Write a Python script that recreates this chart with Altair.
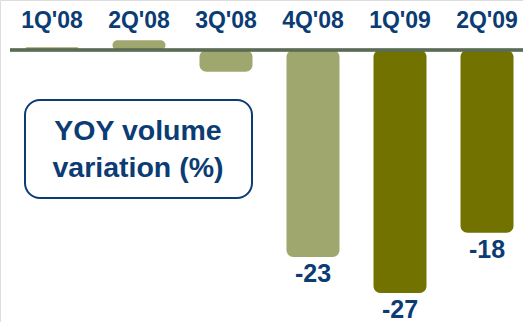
import altair as alt
import pandas as pd

quarters = ["1Q'08", "2Q'08", "3Q'08", "4Q'08", "1Q'09", "2Q'09"]
values = [0.3, 1.1, -2.4, -23, -27, -20.3]
labels = ["", "", "", "-23", "-27", "-18"]
years = ["2008", "2008", "2008", "2008", "2009", "2009"]

df = pd.DataFrame({"q": quarters, "v": values, "label": labels, "year": years})

NAVY = "#0b3c73"
xscale = alt.Scale(domain=quarters, range=[8.5, 530.5], paddingInner=0.39, paddingOuter=0.195)
yscale = alt.Scale(domain=[-30.22, 5.56], nice=False, zero=False)

base = alt.Chart(df)

bars = base.mark_bar(cornerRadius=7, size=53).encode(
    x=alt.X("q:N", scale=xscale, axis=None, sort=quarters),
    y=alt.Y("v:Q", scale=yscale, axis=None),
    y2=alt.datum(0),
    color=alt.Color("year:N", scale=alt.Scale(domain=["2008", "2009"], range=["#a0a76e", "#727200"]), legend=None),
)

zero = base.mark_rule(color="#5b6b55", strokeWidth=2.5).encode(
    x=alt.value(10), x2=alt.value(523), y=alt.datum(0)
)

qlabels = base.mark_text(font="Liberation Sans", fontWeight="bold", fontSize=23, color=NAVY, baseline="middle").encode(
    x=alt.X("q:N", scale=xscale, sort=quarters), y=alt.value(21), text="q:N"
)

vlabels = base.transform_filter("datum.label != ''").mark_text(
    font="Liberation Sans", fontWeight="bold", fontSize=25, color=NAVY, baseline="middle", dy=17
).encode(x=alt.X("q:N", scale=xscale, sort=quarters), y=alt.Y("v:Q", scale=yscale), text="label:N")

box = alt.Chart(pd.DataFrame({"a": [0]})).mark_rect(
    cornerRadius=15, fill="white", stroke=NAVY, strokeWidth=2
).encode(x=alt.value(25), x2=alt.value(252), y=alt.value(100), y2=alt.value(198))

box_text = alt.Chart(pd.DataFrame({"t": ["YOY volume", "variation (%)"], "yy": [131, 168]})).mark_text(
    font="Liberation Sans", fontWeight="bold", fontSize=28.5, color=NAVY, baseline="middle"
).encode(x=alt.value(138), y=alt.Y("yy:Q", scale=None), text="t:N")

chart = alt.layer(bars, zero, qlabels, vlabels, box, box_text).properties(
    width=523, height=322, padding=0, autosize=alt.AutoSizeParams(type="none")
).configure_view(stroke=None).configure(background="white")

chart.save("out.html", embed_options={"renderer": "svg", "actions": False})
